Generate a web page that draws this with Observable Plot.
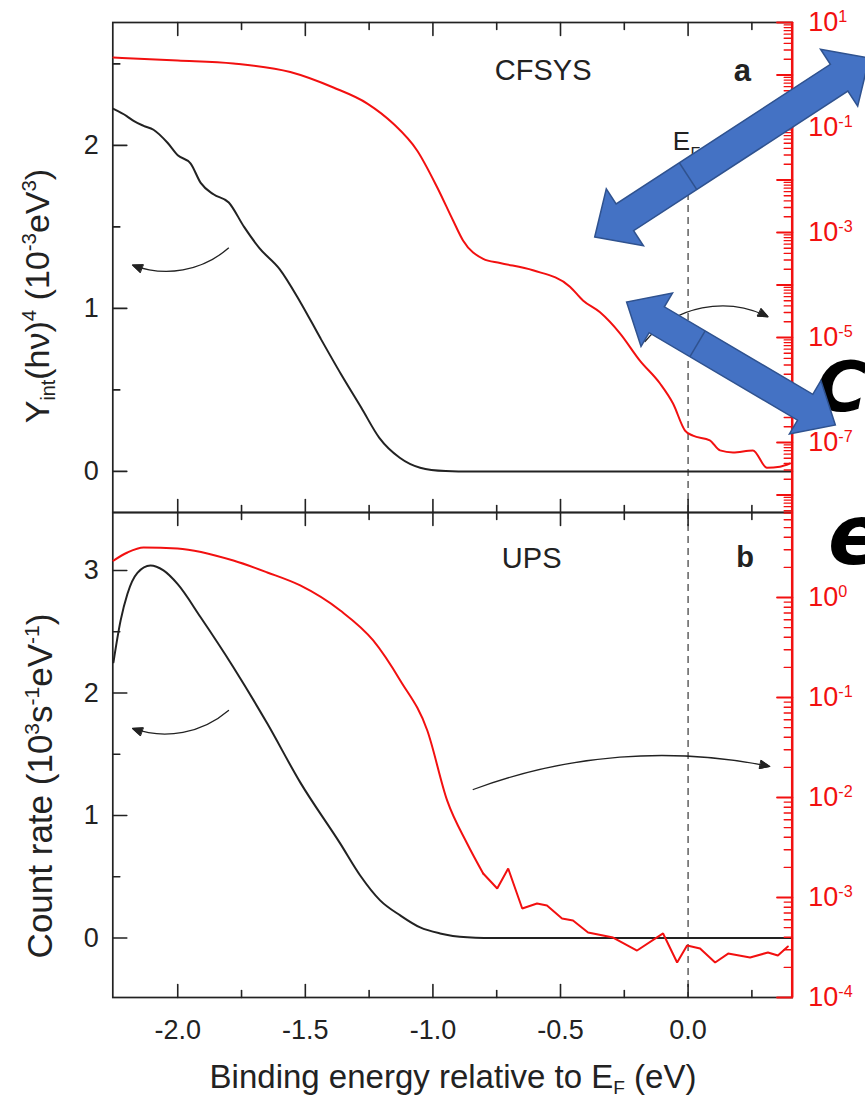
<!DOCTYPE html>
<html><head><meta charset="utf-8">
<script src="https://cdn.jsdelivr.net/npm/d3@7"></script>
<script src="https://cdn.jsdelivr.net/npm/@observablehq/plot@0.6"></script>
<style>
body{margin:0;background:#fff;}
#chart{position:relative;width:865px;height:1104px;overflow:hidden;font-family:'Liberation Sans',Arial,Helvetica,sans-serif;}
#chart svg{position:absolute;left:0;top:0;background:transparent !important;max-width:none !important;}
.ttl{position:absolute;white-space:nowrap;color:#222;font-size:33px;line-height:1;}
.rot{transform:translate(-50%,-50%) rotate(-90deg);}
.ttl sub{font-size:0.58em;vertical-align:-0.3em;line-height:1;}
.ttl sup{font-size:0.6em;vertical-align:0.65em;line-height:1;}
</style></head><body><div id="chart"></div>
<script>
// ---------------- data ----------------
const xDomain = [-2.2545, 0.408];
const energyMajorTicks = [-2.0, -1.5, -1.0, -0.5, 0.0];
const energyMinorTicks = [-1.75, -1.25, -0.75, -0.25, 0.25];

// panel a: CFSYS, linear (left axis)
const cfsysLinEnergy = [-2.252,-2.20,-2.173,-2.134,-2.095,-2.04,-2.00,-1.95,-1.91,-1.86,-1.80,-1.74,-1.68,-1.60,-1.52,-1.44,-1.36,-1.28,-1.21,-1.13,-1.05,-0.95,-0.90,0.408];
const cfsysLinYield  = [2.224,2.18,2.15,2.12,2.096,2.016,1.94,1.89,1.77,1.70,1.65,1.50,1.37,1.24,1.04,0.815,0.596,0.389,0.206,0.084,0.023,0.002,0,0];
// panel a: CFSYS, log (right axis)
const cfsysLogEnergy = [-2.252,-2.0,-1.782,-1.559,-1.39,-1.257,-1.156,-1.062,-0.983,-0.921,-0.882,-0.803,-0.737,-0.608,-0.463,-0.412,-0.345,-0.267,-0.189,-0.110,-0.059,-0.012,0.019,0.085,0.125,0.176,0.254,0.309,0.360,0.399];
const cfsysLogYield  = [2.15,1.89,1.66,1.14,0.578,0.286,0.119,0.0365,7.2e-3,1.69e-3,7.05e-4,3.16e-4,2.63e-4,1.91e-4,9.3e-5,5.07e-5,3.02e-5,1.20e-5,3.63e-6,1.33e-6,5.53e-7,1.69e-7,1.35e-7,1.10e-7,7.08e-8,6.46e-8,7.08e-8,3.31e-8,3.47e-8,3.98e-8];
const cfsysLinDomain = [-0.252, 2.754];
const cfsysLinTicks = [0, 1, 2];
const cfsysLinMinor = [0.5, 1.5, 2.5];
const cfsysLogDomain = [4.645e-9, 10];
const cfsysLogLabels = [10, 1e-1, 1e-3, 1e-5, 1e-7];

// panel b: UPS, linear (left axis)
const upsLinEnergy = [-2.252,-2.224,-2.197,-2.158,-2.107,-2.056,-2.001,-1.911,-1.782,-1.649,-1.520,-1.363,-1.285,-1.207,-1.128,-1.050,-0.972,-0.866,-0.80,0.408];
const upsLinRate   = [2.25,2.59,2.81,2.98,3.04,3.00,2.89,2.62,2.21,1.75,1.27,0.77,0.51,0.307,0.184,0.086,0.037,0.005,0,0];
// panel b: UPS, log (right axis)
const upsLogEnergy = [-2.252,-2.197,-2.134,-2.001,-1.782,-1.649,-1.520,-1.363,-1.234,-1.128,-1.022,-0.944,-0.866,-0.803,-0.748,-0.705,-0.650,-0.592,-0.553,-0.494,-0.451,-0.392,-0.294,-0.200,-0.098,-0.043,-0.004,0.047,0.106,0.157,0.243,0.313,0.352,0.391];
const upsLogRate   = [2.34,2.82,3.16,3.09,2.34,1.78,1.32,0.741,0.372,0.148,0.0468,9.3e-3,3.47e-3,1.74e-3,1.23e-3,1.95e-3,7.76e-4,8.71e-4,8.32e-4,6.17e-4,5.89e-4,4.47e-4,3.98e-4,2.95e-4,4.37e-4,2.24e-4,3.31e-4,3.09e-4,2.24e-4,2.75e-4,2.51e-4,2.82e-4,2.63e-4,3.24e-4];
const upsLinDomain = [-0.486, 3.473];
const upsLinTicks = [0, 1, 2, 3];
const upsLinMinor = [0.5, 1.5, 2.5];
const upsLogDomain = [1e-4, 7.08];
const upsLogLabels = [1, 1e-1, 1e-2, 1e-3, 1e-4];
const upsNoiseOnset = -0.803;   // where the UPS log trace turns into noisy steps

// annotations (data coordinates)
const cfsysName = [{x:-0.568, y:2.459, t:"CFSYS"}];
const cfsysLetter = [{x:0.213, y:2.459, t:"a"}];
const upsName = [{x:-0.613, y:3.098, t:"UPS"}];
const upsLetter = [{x:0.223, y:3.106, t:"b"}];
const efLabel = {x:-0.026, y:2.023};
const efDashTop = 1.70;
const cfsysArrowLeft  = [{x1:-1.801, y1:1.370, x2:-2.177, y2:1.266}];
const cfsysArrowRight = [{x1:-0.169, y1:0.797, x2:0.313, y2:0.949}];
const upsArrowLeft    = [{x1:-1.801, y1:1.857, x2:-2.177, y2:1.710}];
const upsArrowRight   = [{x1:-0.842, y1:1.212, x2:0.320, y2:1.400}];
// blue block arrows, ends in panel-a (energy, log value) coordinates
const blueArrowTails = [[-0.364, 8.04e-4], [-0.239, 4.65e-5]];
const blueArrowHeads = [[0.712, 2.06], [0.579, 2.11e-7]];

// ---------------- layout ----------------
const W = 865, H = 1104;
const FONT = "'Liberation Sans', Arial, Helvetica, sans-serif";
const INK = "#222", RED = "#f21010";
const frameLeft = 112.3, frameRight = 791.7;
const panelA = {top: 22, bottom: 512};
const panelB = {top: 512, bottom: 997};

const zip = (xs, ys) => xs.map((x, i) => ({x, y: ys[i]}));
function logTicks([lo, hi], ks) {
  const out = [];
  for (let e = Math.floor(Math.log10(lo)) - 1; e <= Math.ceil(Math.log10(hi)); e++)
    for (const k of ks) { const v = +(k * 10 ** e).toPrecision(6); if (v >= lo * 0.999 && v <= hi * 1.001) out.push(v); }
  return out;
}
function base(panel, y) {
  return {
    width: W, height: H,
    marginLeft: frameLeft, marginRight: W - frameRight,
    marginTop: panel.top, marginBottom: H - panel.bottom,
    x: {domain: xDomain, axis: null},
    y: {...y, axis: null},
    style: {background: "none", fontFamily: FONT, overflow: "visible"}
  };
}
// inward tick: a straight segment drawn by Plot.vector from the frame edge
const tickShape = {draw(ctx, l) { ctx.moveTo(0, 0); ctx.lineTo(0, -l); }};
function ticksX(values, anchor, len) {
  return Plot.vector(values, {x: d => d, frameAnchor: anchor, length: len, rotate: anchor === "top" ? 180 : 0,
    anchor: "start", shape: tickShape, stroke: INK, strokeWidth: 1.6});
}
function ticksY(values, anchor, len, stroke, sw) {
  return Plot.vector(values, {y: d => d, frameAnchor: anchor, length: len, rotate: anchor === "left" ? 90 : 270,
    anchor: "start", shape: tickShape, stroke, strokeWidth: sw});
}
function xTickMarks(anchor) {
  return [ticksX(energyMajorTicks, anchor, 13), ticksX(energyMinorTicks, anchor, 7)];
}
function yLinMarks(ticks, minor) {
  return [
    ticksY(ticks, "left", 14, INK, 1.6),
    ticksY(minor, "left", 7, INK, 1.6),
    Plot.axisY(ticks, {anchor: "left", tickSize: 0, tickPadding: 14, fill: INK, fontSize: 27, label: null, tickFormat: d => String(d)})
  ];
}
function arrows(data, bend) {
  return Plot.arrow(data, {x1: "x1", y1: "y1", x2: "x2", y2: "y2", bend, stroke: INK, strokeWidth: 1.3, headLength: 12, headAngle: 45});
}
function notes(data, size, weight) {
  return Plot.text(data, {x: "x", y: "y", text: "t", fontSize: size, fontWeight: weight, fill: INK});
}
function logAxisMarks(domain, labels) {
  return [
    Plot.ruleX([xDomain[1]], {stroke: RED, strokeWidth: 2.5}),
    ticksY(logTicks(domain, [1]), "right", 15, RED, 2.2),
    ticksY(logTicks(domain, [2,3,4,5,6,7,8,9]), "right", 8, RED, 1.4),
    Plot.axisY(labels, {anchor: "right", tickSize: 0, tickPadding: 16, fill: RED, fontSize: 27, label: null,
      tickFormat: d => "10^" + Math.round(Math.log10(d))})
  ];
}

// ---------------- panel a ----------------
const topLin = Plot.plot({
  ...base(panelA, {domain: cfsysLinDomain}),
  marks: [
    Plot.ruleX([0], {y1: cfsysLinDomain[0], y2: efDashTop, stroke: "#555", strokeWidth: 1.4, strokeDasharray: "7,5"}),
    Plot.line(zip(cfsysLinEnergy, cfsysLinYield), {x: "x", y: "y", stroke: INK, strokeWidth: 2, curve: "monotone-x"}),
    Plot.frame({stroke: INK, strokeWidth: 1.7}),
    ...xTickMarks("top"), ...xTickMarks("bottom"),
    ...yLinMarks(cfsysLinTicks, cfsysLinMinor),
    notes(cfsysName, 29, "normal"),
    notes(cfsysLetter, 31, "bold"),
    Plot.text([efLabel], {x: "x", y: "y", text: () => "E", fontSize: 26, fill: INK}),
    Plot.text([efLabel], {x: "x", y: "y", text: () => "F", fontSize: 16, dx: 14, dy: 12, fill: INK}),
    arrows(cfsysArrowLeft, 31),
    arrows(cfsysArrowRight, 38)
  ]
});
const topLog = Plot.plot({
  ...base(panelA, {type: "log", domain: cfsysLogDomain}),
  marks: [
    Plot.line(zip(cfsysLogEnergy, cfsysLogYield), {x: "x", y: "y", stroke: RED, strokeWidth: 2, curve: "monotone-x"}),
    ...logAxisMarks(cfsysLogDomain, cfsysLogLabels)
  ]
});

// ---------------- panel b ----------------
const botLin = Plot.plot({
  ...base(panelB, {domain: upsLinDomain}),
  marks: [
    Plot.ruleX([0], {stroke: "#555", strokeWidth: 1.4, strokeDasharray: "7,5"}),
    Plot.line(zip(upsLinEnergy, upsLinRate), {x: "x", y: "y", stroke: INK, strokeWidth: 2, curve: "monotone-x"}),
    Plot.frame({stroke: INK, strokeWidth: 1.7}),
    ...xTickMarks("top"), ...xTickMarks("bottom"),
    Plot.axisX(energyMajorTicks, {anchor: "bottom", tickSize: 0, tickPadding: 22, fill: INK, fontSize: 27, label: null, tickFormat: d => d.toFixed(1)}),
    ...yLinMarks(upsLinTicks, upsLinMinor),
    notes(upsName, 29, "normal"),
    notes(upsLetter, 29, "bold"),
    arrows(upsArrowLeft, 30),
    arrows(upsArrowRight, 16)
  ]
});
const upsLog = zip(upsLogEnergy, upsLogRate);
const botLog = Plot.plot({
  ...base(panelB, {type: "log", domain: upsLogDomain}),
  marks: [
    Plot.line(upsLog.filter(d => d.x <= upsNoiseOnset), {x: "x", y: "y", stroke: RED, strokeWidth: 2, curve: "monotone-x"}),
    Plot.line(upsLog.filter(d => d.x >= upsNoiseOnset), {x: "x", y: "y", stroke: RED, strokeWidth: 2, strokeLinejoin: "miter"}),
    ...logAxisMarks(upsLogDomain, upsLogLabels)
  ]
});

const chart = document.getElementById("chart");
for (const svg of [topLin, botLin, topLog, botLog]) chart.appendChild(svg);

// superscript exponents on the red log axes
for (const svg of [topLog, botLog]) {
  d3.select(svg).selectAll('g[aria-label="y-axis tick label"] text').each(function () {
    const s = this.textContent;
    if (!s.startsWith("10^")) return;
    const exp = s.slice(3);
    this.textContent = "10";
    d3.select(this).append("tspan").attr("dy", "-0.55em").attr("font-size", "0.6em").text(exp);
  });
}
// fill the heads of the curved black arrows
for (const svg of [topLin, botLin]) {
  d3.select(svg).selectAll('g[aria-label="arrow"] path').each(function () {
    const nums = (this.getAttribute("d").match(/-?\d*\.?\d+(?:e-?\d+)?/g) || []).map(Number);
    if (nums.length < 6) return;
    const p = nums.slice(-6);
    d3.select(this.parentNode).append("path")
      .attr("d", `M${p[0]},${p[1]}L${p[2]},${p[3]}L${p[4]},${p[5]}Z`)
      .attr("fill", INK).attr("stroke", INK).attr("stroke-width", 1).attr("stroke-linejoin", "round");
  });
}

// axis titles
function addTitle(html, css, cls) {
  const d = document.createElement("div");
  d.className = "ttl " + (cls || "");
  d.innerHTML = html;
  Object.assign(d.style, css);
  chart.appendChild(d);
}
addTitle("Y<sub>int</sub>(hν)<sup>4</sup> (10<sup>-3</sup>eV<sup>3</sup>)", {left: "39px", top: "296px", fontSize: "34px"}, "rot");
addTitle("Count rate (10<sup>3</sup>s<sup>-1</sup>eV<sup>-1</sup>)", {left: "39px", top: "786px", fontSize: "35px"}, "rot");
addTitle("Binding energy relative to E<sub>F</sub> (eV)", {left: "453px", top: "1060px", transform: "translateX(-50%)"});

// overlay: slide annotations (blue double arrows, cropped text)
const sxInfo = topLog.scale("x"), syInfo = topLog.scale("y");
const sx = d3.scaleLinear().domain(sxInfo.domain).range(sxInfo.range);
const sy = d3.scaleLog().domain(syInfo.domain).range(syInfo.range);
const over = d3.create("svg").attr("width", W).attr("height", H).attr("viewBox", `0 0 ${W} ${H}`);
over.append("text").attr("x", 816).attr("y", 411).attr("font-family", "'DejaVu Sans', sans-serif")
  .attr("font-weight", "bold").attr("font-style", "italic").attr("font-size", 70).attr("fill", "#000").text("C");
over.append("text").attr("x", 828).attr("y", 564).attr("font-family", "'DejaVu Sans', sans-serif")
  .attr("font-weight", "bold").attr("font-style", "italic").attr("font-size", 84).attr("fill", "#000").text("e");
const arrowSizes = [{shaft: 32, head: 68, len: 36, sep: 0.34}, {shaft: 30, head: 62, len: 35, sep: 0.34}];
blueArrowTails.forEach((tail, i) => {
  const t = [sx(tail[0]), sy(tail[1])], h = [sx(blueArrowHeads[i][0]), sy(blueArrowHeads[i][1])];
  const {shaft, head, len: hl, sep} = arrowSizes[i];
  const dx = h[0] - t[0], dy = h[1] - t[1], L = Math.hypot(dx, dy), ux = dx / L, uy = dy / L, nx = -uy, ny = ux;
  const P = (s, o) => [t[0] + ux * s + nx * o, t[1] + uy * s + ny * o];
  const pts = [P(0, 0), P(hl, head / 2), P(hl, shaft / 2), P(L - hl, shaft / 2), P(L - hl, head / 2), P(L, 0),
    P(L - hl, -head / 2), P(L - hl, -shaft / 2), P(hl, -shaft / 2), P(hl, -head / 2)];
  over.append("polygon").attr("points", pts.map(p => p.join(",")).join(" "))
    .attr("fill", "#4472C4").attr("stroke", "#2F528F").attr("stroke-width", 1.5).attr("stroke-linejoin", "miter");
  const a = P(L * sep, shaft / 2), b = P(L * sep, -shaft / 2);
  over.append("line").attr("x1", a[0]).attr("y1", a[1]).attr("x2", b[0]).attr("y2", b[1])
    .attr("stroke", "#2F528F").attr("stroke-width", 1.5);
});
chart.appendChild(over.node());
</script></body></html>
